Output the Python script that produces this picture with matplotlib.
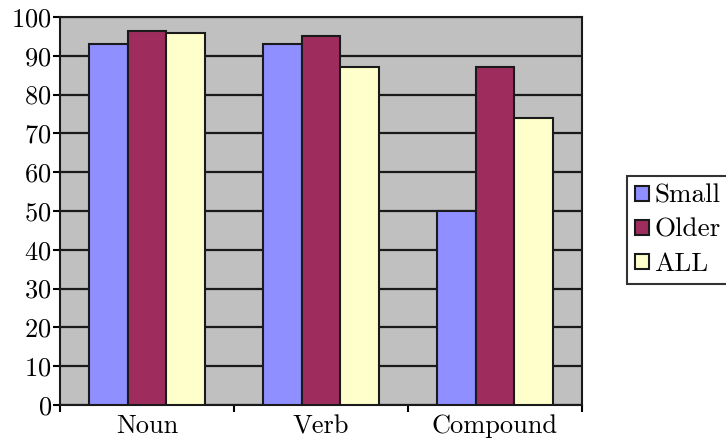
import numpy as np
import matplotlib.pyplot as plt
from matplotlib.ticker import FixedLocator

# data
categories = ['Noun', 'Verb', 'Compound']
series = ['Small', 'Older', 'ALL']
small = [93, 93, 50]
older = [96.5, 95, 87]
all_ = [96, 87, 74]
colors = ['#8f8fff', '#9e2d5e', '#ffffcc']

plt.rcParams['font.family'] = ['cmr10', 'DejaVu Serif']
plt.rcParams['axes.formatter.use_mathtext'] = True

fig = plt.figure(figsize=(7.26, 4.46), dpi=100)
ax = fig.add_axes([60/726, 1 - 405/446, 522/726, 388/446])
ax.set_facecolor('#c0c0c0')

x = np.arange(len(categories))
w = 0.224
for i, (vals, c, lab) in enumerate(zip([small, older, all_], colors, series)):
    ax.bar(x + (i - 1)*w, vals, w, color=c, edgecolor='#1a1a1a', linewidth=1.5,
           label=lab, zorder=3)

ax.set_ylim(0, 100)
ax.set_xlim(-0.5, 2.5)
ax.set_yticks(range(0, 101, 10))
ax.yaxis.grid(True, color='#1a1a1a', linewidth=1.6, zorder=0)
ax.set_axisbelow(True)

ax.set_xticks(x)
ax.set_xticklabels(categories)
ax.tick_params(axis='x', which='major', length=0, labelsize=19, pad=7)
ax.xaxis.set_minor_locator(FixedLocator([-0.5, 0.5, 1.5, 2.5]))
ax.tick_params(axis='x', which='minor', length=5, width=1.5, direction='out')
ax.tick_params(axis='y', length=5, width=1.5, labelsize=19, pad=1)

for s in ax.spines.values():
    s.set_linewidth(1.5)
    s.set_color('#1a1a1a')

leg = fig.legend(loc='center left', bbox_to_anchor=(627/726, 1 - 230/446),
                 fontsize=19.5, frameon=True, fancybox=False, edgecolor='black',
                 handlelength=0.5, handleheight=0.5, handletextpad=0.2,
                 labelspacing=0.38, borderpad=0.3, borderaxespad=0)
leg.get_frame().set_linewidth(1.5)

fig.savefig('out.png', dpi=100)
